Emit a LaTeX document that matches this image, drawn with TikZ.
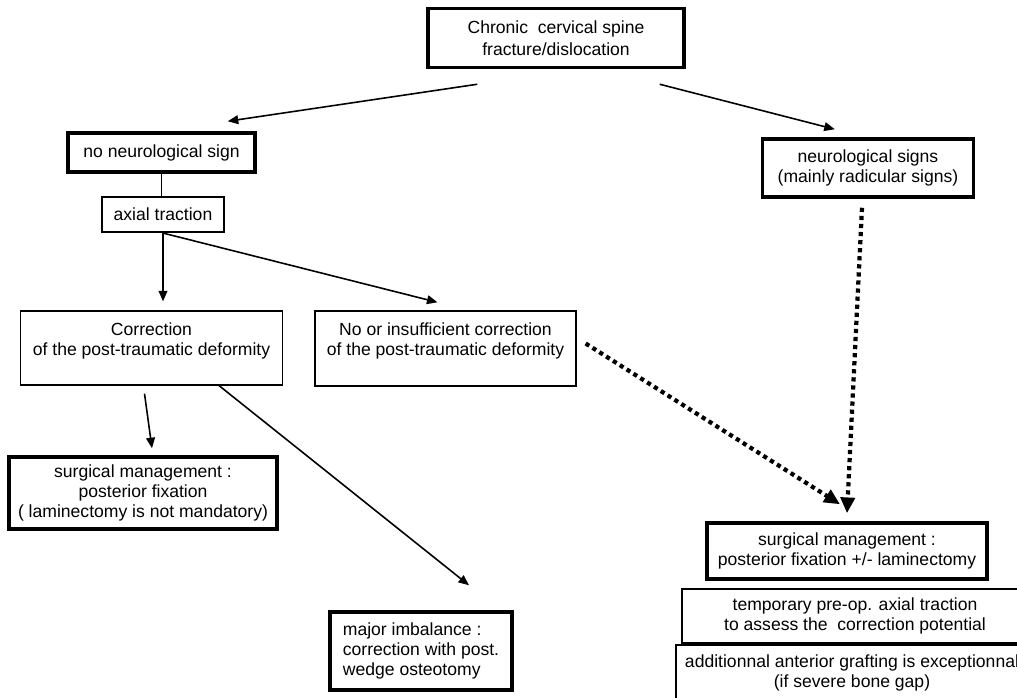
\documentclass[tikz,border=0pt]{standalone}
\usepackage{fontspec}
\setmainfont{Liberation Sans}
\usetikzlibrary{arrows.meta}

\tikzset{
  thickbox/.style={draw, line width=2pt, align=center, inner sep=0pt},
  midbox/.style={draw, line width=1.2pt, align=center, inner sep=0pt},
  thinbox/.style={draw, line width=0.8pt, align=center, inner sep=0pt},
  arr/.style={-{Triangle[length=6pt,width=5pt]}, line width=0.9pt},
  dotarr/.style={-{Triangle[length=9pt,width=8pt]}, line width=2.4pt, dash pattern=on 2.4pt off 2.2pt}
}

\begin{document}
\begin{tikzpicture}[x=0.02cm, y=-0.02cm, font=\fontsize{10}{11.5}\selectfont]

            \useasboundingbox (0,0) rectangle (1017,697);

            \node[thickbox, minimum width=5.12cm, minimum height=1.18cm] (chronic) at (556,38) {Chronic~ cervical spine\\[1pt]fracture/dislocation};
            \node[thickbox, minimum width=3.74cm, minimum height=0.78cm] (noneuro) at (161.5,152.5) {no neurological sign};
            \node[midbox, minimum width=2.44cm, minimum height=0.70cm] (axial) at (163,214.5) {axial traction};
            \node[thickbox, minimum width=4.22cm, minimum height=1.16cm] (neuro) at (868,168) {neurological signs\\(mainly radicular signs)};

            \node[thinbox, minimum width=5.24cm, minimum height=1.48cm, text depth=10.5pt] (corr) at (151.5,348) {Correction\\of the post-traumatic deformity};
            \node[thinbox, minimum width=5.22cm, minimum height=1.50cm, text depth=10.5pt] (nocorr) at (445.5,348.5) {No or insufficient correction\\of the post-traumatic deformity};

            \node[thickbox, minimum width=5.36cm, minimum height=1.44cm] (surgl) at (143,493) {surgical management :\\posterior fixation\\( laminectomy is not mandatory)};
            \node[thickbox, align=left, minimum width=3.64cm, minimum height=1.56cm] (major) at (421,651) {major imbalance :\\correction with post.\\wedge osteotomy};

            \node[thickbox, minimum width=5.60cm, minimum height=1.12cm] (surgr) at (847,551) {surgical management :\\posterior fixation +/- laminectomy};
            \node[thinbox, minimum width=6.92cm, minimum height=1.08cm] (temp) at (855,616) {temporary pre-op. axial traction\\to assess the~ correction potential};
            \node[thinbox, minimum width=7.04cm, minimum height=1.12cm] (graft) at (852,673) {additionnal anterior grafting is exceptionnal\\(if severe bone gap)};

            \draw[arr] ([shift={(51,15)}]chronic.south west) -- ([shift={(-29,-10)}]noneuro.north east);
            \draw[arr] ([shift={(-26,15)}]chronic.south east) -- ([shift={(74,-8)}]neuro.north west);
            \draw[line width=0.9pt] (noneuro.south) -- (noneuro.south |- axial.north);
            \draw[arr] (axial.south) -- ([yshift=0.18cm]axial.south |- corr.north);
            \draw[arr] (axial.south) -- ([shift={(-8,-8)}]nocorr.north);
            \draw[arr] ([shift={(-7,8)}]corr.south) -- ([shift={(9,-7)}]surgl.north);
            \draw[arr] ([shift={(-64,0)}]corr.south east) -- ([shift={(48,-25)}]major.north);
            \draw[dotarr] ([shift={(9,-5)}]nocorr.east) -- ([shift={(-7,-17)}]surgr.north);
            \draw[dotarr] ([shift={(-6,9)}]neuro.south) -- ([shift={(0,-8)}]surgr.north);

        \end{tikzpicture}
\end{document}
